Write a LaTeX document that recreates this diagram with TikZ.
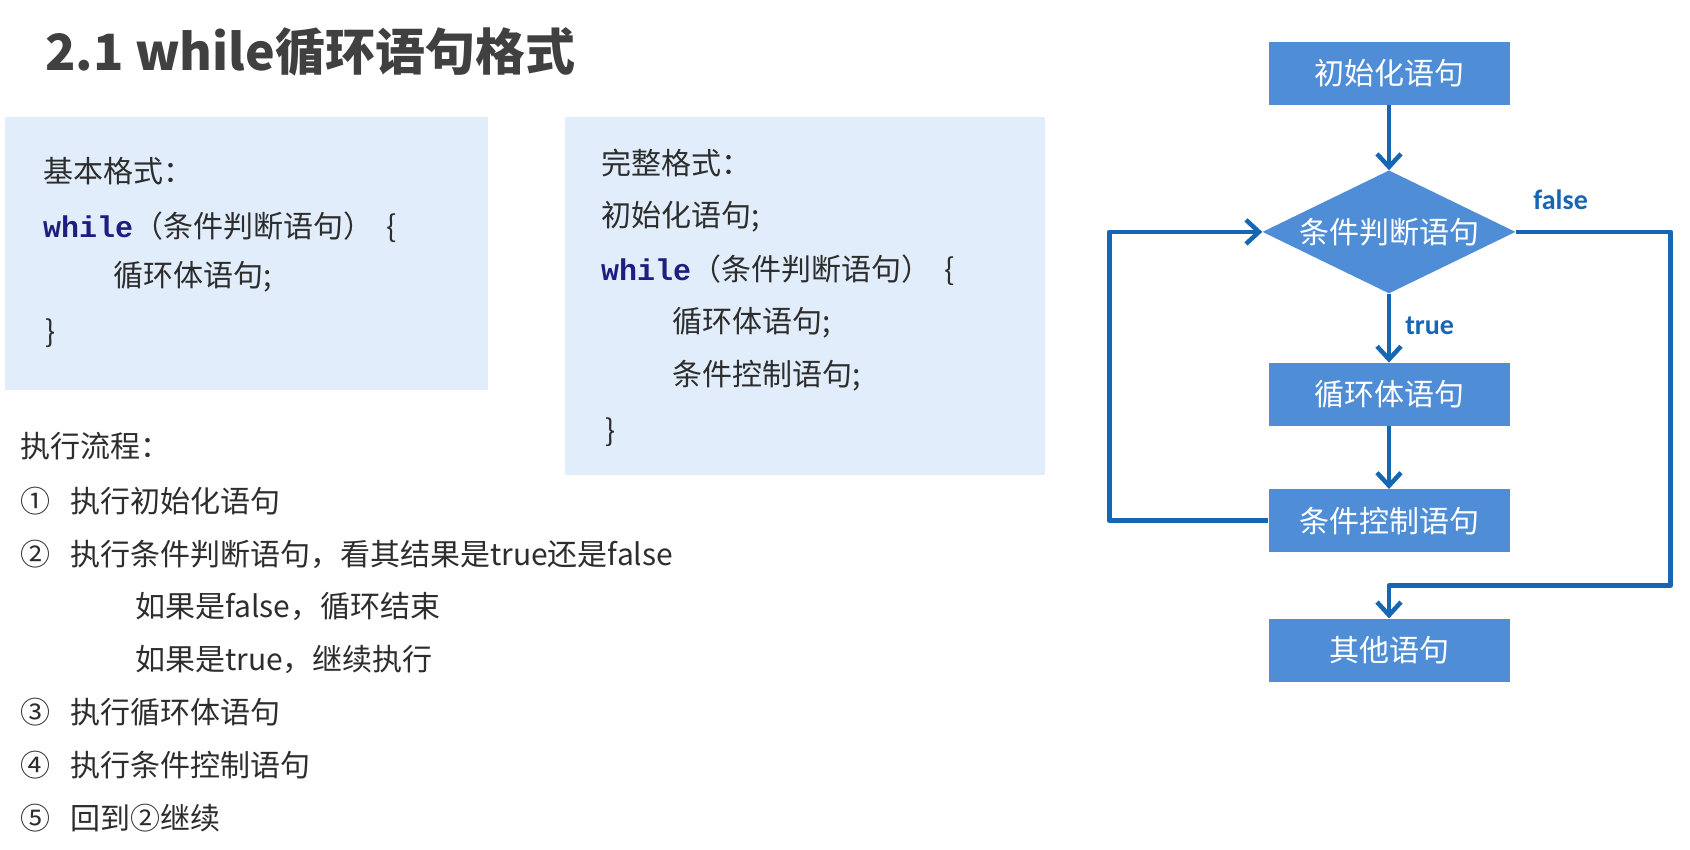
\documentclass[tikz,border=0pt]{standalone}
\usepackage{fontspec}
\setmainfont{Noto Sans CJK SC}
\newfontfamily\codefont{Liberation Mono}
\newfontfamily\labelfont{Carlito}
\usetikzlibrary{positioning,shapes.geometric,arrows.meta}

\definecolor{panelblue}{RGB}{226,237,251}
\definecolor{boxblue}{RGB}{79,142,215}
\definecolor{lineblue}{RGB}{22,102,180}
\definecolor{keyblue}{RGB}{28,30,128}
\definecolor{txtgray}{RGB}{45,45,45}
\definecolor{titlegray}{RGB}{64,64,64}

\newcommand{\kwhile}{{\codefont\bfseries\color{keyblue}while}}

\begin{document}
\begin{tikzpicture}[
  x=1pt, y=1pt,
  every node/.style={inner sep=0pt},
  txt/.style={anchor=west, text=txtgray, font=\fontsize{30}{36}\selectfont},
  stepbox/.style={rectangle, fill=boxblue, text=white, minimum width=241pt,
    minimum height=63pt, font=\fontsize{30}{36}\selectfont},
  testbox/.style={diamond, aspect=2.06, fill=boxblue, text=white,
    minimum width=253pt, minimum height=123pt, font=\fontsize{30}{36}\selectfont},
  flow/.style={draw=lineblue, line width=4.5pt, line join=round,
    -{Straight Barb[length=13pt,width=24pt]}},
  tf/.style={text=lineblue, font=\labelfont\bfseries\fontsize{28}{32}\selectfont}
]
\fill[white] (0,0) rectangle (1690,-850);
\useasboundingbox (0,0) rectangle (1690,-850);

% title
\node[anchor=west, text=titlegray, font=\bfseries\fontsize{50}{56}\selectfont]
  (title) at (45,-52) {2.1 while循环语句格式};

% basic form
\fill[panelblue] (5,-117) rectangle (488,-390);
\node[txt] (b1) at (43,-171) {基本格式：};
\node[txt] (b2) at (43,-227) {\kwhile（条件判断语句）\hspace{13pt}\{};
\node[txt] (b3) at (113,-277) {循环体语句;};
\node[txt] (b4) at (45,-333) {\}};

% full form
\fill[panelblue] (565,-117) rectangle (1045,-475);
\node[txt] (f1) at (601,-163) {完整格式：};
\node[txt] (f2) at (601,-217) {初始化语句;};
\node[txt] (f3) at (601,-270) {\kwhile（条件判断语句）\hspace{13pt}\{};
\node[txt] (f4) at (672,-323) {循环体语句;};
\node[txt] (f5) at (672,-376) {条件控制语句;};
\node[txt] (f6) at (605,-432) {\}};

% steps
\node[txt] (s0) at (20,-446) {执行流程：};
\node[txt] (s1) at (20,-501) {①\hspace{20pt}执行初始化语句};
\node[txt] (s2) at (20,-554) {②\hspace{20pt}执行条件判断语句，看其结果是true还是false};
\node[txt] (s2a) at (135,-606) {如果是false，循环结束};
\node[txt] (s2b) at (135,-659) {如果是true，继续执行};
\node[txt] (s3) at (20,-712) {③\hspace{20pt}执行循环体语句};
\node[txt] (s4) at (20,-765) {④\hspace{20pt}执行条件控制语句};
\node[txt] (s5) at (20,-818) {⑤\hspace{20pt}回到②继续};

% flow chart
\node[stepbox] (init) at (1389,-73.5) {初始化语句};
\node[testbox, below=65pt of init] (cond) {条件判断语句};
\node[stepbox, below=69pt of cond] (body) {循环体语句};
\node[stepbox, below=63pt of body] (ctrl) {条件控制语句};
\node[stepbox, below=66pt of ctrl] (other) {其他语句};

\draw[flow] (init) -- (cond);
\draw[flow] (cond) -- node[tf, right=14pt, yshift=2pt] (tlab) {true} (body);
\draw[flow] (body) -- (ctrl);
\draw[flow] (ctrl.west) -- ++(-159,0) |- (cond.west);
\draw[flow] (cond.east) -- node[tf, above=20pt, pos=0.29] (flab) {false} ++(155,0)
  |- ([yshift=33pt]other.north) -- (other.north);
\end{tikzpicture}
\end{document}
